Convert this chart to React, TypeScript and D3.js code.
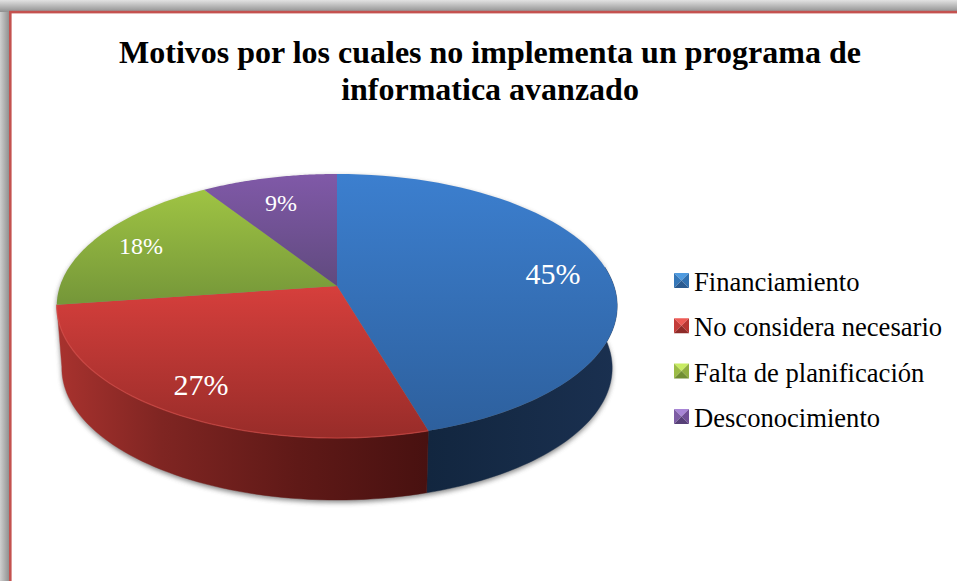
import React from "react";
import * as d3 from "d3";

const categories = ["Financiamiento", "No considera necesario", "Falta de planificación", "Desconocimiento"];
const values = [45, 27, 18, 9];
const labels = ["45%", "27%", "18%", "9%"];
const titleLines = ["Motivos por los cuales no implementa un programa de", "informatica avanzado"];

const topColors = [["#3c7fcf", "#2d5f9c"], ["#d63f3c", "#982c29"], ["#a5ca45", "#769839"], ["#8059a8", "#5c4879"]];
const sideStops = [
  [[0, "#12263f"], [1, "#1a3050"]],
  [[0, "#a8322e"], [0.28, "#7f2522"], [0.65, "#5f1917"], [1, "#481110"]],
  [[0, "#6f8a30"], [1, "#56702a"]],
  [[0, "#5c4879"], [1, "#453660"]],
] as [number, string][][];
const legendColors = [
  ["#4f9be0", "#3577b8", "#3070b0", "#2a5a90"],
  ["#ee5a55", "#c43c39", "#b83633", "#8e2b28"],
  ["#c8ec62", "#9cbc46", "#90ae40", "#708e32"],
  ["#a885d6", "#7d5ca4", "#704f96", "#574078"],
];
const labelPos = [[553, 284, 30], [201, 395, 30], [141, 254, 24], [281, 211, 24]];

const cx = 337, cy = 286, K = -0.1515, A = 129, B = 277, DEPTH = 62, RIM = 0.982;

// perspective projection of the unit circle, angle measured clockwise from the top
const proj = (t: number, r = 1): [number, number] => {
  const u = r * Math.sin(t), v = -r * Math.cos(t);
  const d = 1 + K * v;
  return [cx + (B * u) / d, cy + (A * v) / d];
};
const low = (t: number): [number, number] => {
  const [x, y] = proj(t);
  return [cx + (x - cx) * RIM, y + DEPTH];
};
const samples = (a: number, b: number, f: (t: number) => [number, number]) =>
  d3.range(0, 61).map((i) => f(a + ((b - a) * i) / 60));

const line = d3.line().curve(d3.curveLinear);
const arcs = d3.pie<number>().sort(null)(values);

// The rim is visible from the right extreme, past the bottom, to the end of the red slice
const visA = Math.PI / 2 - 0.15, visB = arcs[1].endAngle;

export default function App() {
  const outline = [...samples(visA, visB, low), ...samples(visB, visA + 2 * Math.PI, proj)] as [number, number][];
  return (
    <svg width={957} height={581} style={{ position: "fixed", left: 0, top: 0, display: "block" }} fontFamily="'Liberation Serif', serif">
      <defs>
        <linearGradient id="fl" x1="0" x2="1" y1="0" y2="0">
          <stop offset="0" stopColor="#cfcfcf" />
          <stop offset="1" stopColor="#8a8a8a" />
        </linearGradient>
        <linearGradient id="ft" x1="0" x2="0" y1="0" y2="1">
          <stop offset="0" stopColor="#e2e2e2" />
          <stop offset="1" stopColor="#8f8f8f" />
        </linearGradient>
        <filter id="blur" x="-10%" y="-10%" width="120%" height="120%">
          <feGaussianBlur stdDeviation="2.5" />
        </filter>
        <filter id="soft" x="-5%" y="-5%" width="110%" height="110%">
          <feGaussianBlur stdDeviation="0.6" />
        </filter>
        {topColors.map((c, i) => (
          <linearGradient key={i} id={`top${i}`} gradientUnits="userSpaceOnUse" x1="0" x2="0" y1={i === 1 ? 286 : 174} y2={i < 2 ? 438 : 300}>
            <stop offset="0" stopColor={c[0]} />
            <stop offset="1" stopColor={c[1]} />
          </linearGradient>
        ))}
        {sideStops.map((c, i) => (
          <linearGradient key={i} id={`side${i}`} gradientUnits="userSpaceOnUse" x1={i === 1 ? 58 : 428} x2={i === 1 ? 428 : 617} y1="0" y2="0">
            {c.map(([o, col], j) => <stop key={j} offset={o} stopColor={col} />)}
          </linearGradient>
        ))}
      </defs>
      <rect width={957} height={581} fill="#fff" />
      <rect x={0} y={0} width={10} height={581} fill="url(#fl)" />
      <rect x={0} y={0} width={957} height={12} fill="url(#ft)" />
      <rect x={10.3} y={12.1} width={1000} height={700} fill="#fff" stroke="#c4524f" strokeWidth={2.6} />

      {titleLines.map((t, i) => (
        <text key={i} x={490} y={63 + i * 36.5} textAnchor="middle" fontSize={32} fontWeight="bold" fill="#000">{t}</text>
      ))}

      <path d={line(outline) + "Z"} transform="translate(0,2.5)" fill="#555" opacity={0.7} filter="url(#blur)" />

      {arcs.map((a, i) => {
        const s = Math.max(a.startAngle, visA), e = Math.min(a.endAngle, visB);
        if (e <= s) return null;
        const pts = [...samples(s, e, proj), ...samples(e, s, low)] as [number, number][];
        return <path key={i} d={line(pts) + "Z"} fill={`url(#side${i})`} stroke={`url(#side${i})`} strokeWidth={0.4} />;
      })}

      {arcs.map((a, i) => {
        const pts = [[cx, cy], ...samples(a.startAngle, a.endAngle, proj)] as [number, number][];
        return <path key={i} d={line(pts) + "Z"} fill={`url(#top${i})`} />;
      })}
      <path
        d={line(samples(arcs[1].startAngle, arcs[1].endAngle, proj) as [number, number][]) ?? ""}
        fill="none"
        stroke="#e0504c"
        strokeWidth={1.3}
        opacity={0.55}
        filter="url(#soft)"
      />

      {labels.map((l, i) => (
        <text key={i} x={labelPos[i][0]} y={labelPos[i][1]} textAnchor="middle" fontSize={labelPos[i][2]} fill="#fff">{l}</text>
      ))}

      {categories.map((c, i) => {
        const x = 674, s = 15, y = 273 + i * 45.3;
        const m: [number, number] = [x + s / 2, y + s / 2];
        const tl: [number, number] = [x, y], tr: [number, number] = [x + s, y], br: [number, number] = [x + s, y + s], bl: [number, number] = [x, y + s];
        const tris = [[tl, tr, m], [tl, bl, m], [tr, br, m], [bl, br, m]] as [number, number][][];
        return (
          <g key={c}>
            {tris.map((t, j) => <path key={j} d={line(t) + "Z"} fill={legendColors[i][j]} />)}
            <text x={694} y={y + 18} fontSize={26.6} fill="#000">{c}</text>
          </g>
        );
      })}
    </svg>
  );
}
